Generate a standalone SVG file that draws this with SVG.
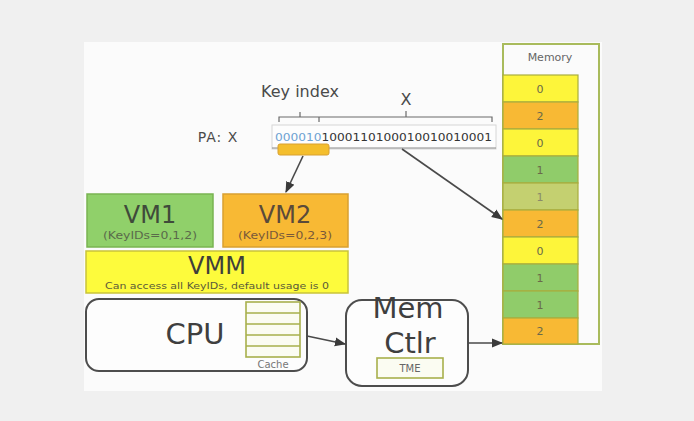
<svg xmlns="http://www.w3.org/2000/svg" width="694" height="421" viewBox="0 0 694 421">
<defs>
<style>
text{font-family:"DejaVu Sans","Liberation Sans",sans-serif;fill:#4a4a4a}
.mid{text-anchor:middle}
.box{stroke-width:1.5}
.green{fill:#90d06a;stroke:#79b452}
.orange{fill:#f8b934;stroke:#d9a030}
.yellow{fill:#fdfb3c;stroke:#c9c43a}
.olive{fill:#c9d47a;stroke:#a8b450}
.round{fill:#fdfdfd;stroke:#4d4d4d;stroke-width:2}
.conn{stroke:#4a4a4a;stroke-width:1.6;fill:none}
.cell{stroke:#a9ad3e;stroke-width:1.2}
.memtxt{font-size:11px;fill:#6a6a4a}
</style>
<marker id="ah" viewBox="0 0 10 10" refX="9" refY="5" markerWidth="7" markerHeight="7" orient="auto">
<path d="M0,1 L10,5 L0,9 z" fill="#3a3a3a"/>
</marker>
</defs>
<rect width="694" height="421" fill="#f0f0f0"/>
<rect x="84" y="42" width="518" height="349" fill="#fbfbfb"/>

<g id="pa">
<text x="300" y="97" class="mid" style="font-size:16px">Key index</text>
<text x="406" y="105" class="mid" style="font-size:16px">X</text>
<path d="M279,122 V117 H492 V122 M300,117 V112 M319,117 V122 M406,117 V111" stroke="#6a6a6a" stroke-width="1.2" fill="none"/>
<text x="218" y="142" class="mid" style="font-size:14px;letter-spacing:1px">PA: X</text>
<rect x="272" y="125" width="224" height="24" fill="#fdfdfd" stroke="#d6d6d6" stroke-width="1"/>
<line x1="272" y1="148" x2="496" y2="148" stroke="#8a8a8a" stroke-width="1.2"/>
<text x="275" y="141" style="font-size:10px" textLength="217" lengthAdjust="spacingAndGlyphs"><tspan style="fill:#6ea2d2">000010</tspan><tspan style="fill:#333">1000110100010010010001</tspan></text>
<rect x="278" y="144" width="51" height="11" rx="2" fill="#f4be2c" stroke="#d8a030" stroke-width="1"/>
</g>

<g id="vm1">
<rect x="87" y="194" width="126" height="53" class="box green"/>
<text x="150" y="223" class="mid" style="font-size:24px;fill:#3f4a3a">VM1</text>
<text x="150" y="239" class="mid" style="font-size:10px;fill:#5a6a4a" textLength="94" lengthAdjust="spacingAndGlyphs">(KeyIDs=0,1,2)</text>
</g>

<g id="vm2">
<rect x="223" y="194" width="125" height="53" class="box orange"/>
<text x="285" y="223" class="mid" style="font-size:24px;fill:#5a4a3a">VM2</text>
<text x="285" y="239" class="mid" style="font-size:10px;fill:#7a5a3a" textLength="94" lengthAdjust="spacingAndGlyphs">(KeyIDs=0,2,3)</text>
</g>

<g id="vmm">
<rect x="86" y="251" width="262" height="42" class="box yellow"/>
<text x="217" y="274" class="mid" style="font-size:24px;fill:#3f3f3a">VMM</text>
<text x="217" y="289" class="mid" style="font-size:9px;fill:#5a5a3a" textLength="224" lengthAdjust="spacingAndGlyphs">Can access all KeyIDs, default usage is 0</text>
</g>

<g id="cpu">
<rect x="86" y="299" width="221" height="72" rx="13" class="round"/>
<text x="195" y="344" class="mid" style="font-size:29px;fill:#3f3f3f">CPU</text>
<rect x="246" y="302" width="54" height="55" fill="#fbfcf2" stroke="#a8b04c" stroke-width="1.6"/>
<path d="M246,313 H300 M246,324 H300 M246,335 H300 M246,346 H300" stroke="#a8b04c" stroke-width="1.6"/>
<text x="273" y="368" class="mid" style="font-size:10px;fill:#777">Cache</text>
</g>

<g id="memctlr">
<rect x="346" y="300" width="122" height="86" rx="16" class="round"/>
<text x="408" y="318" class="mid" style="font-size:29px;fill:#3f3f3f">Mem</text>
<text x="410" y="353" class="mid" style="font-size:29px;fill:#3f3f3f">Ctlr</text>
<rect x="377" y="358" width="66" height="20" fill="#fbfcf2" stroke="#a8b04c" stroke-width="1.6"/>
<text x="410" y="372" class="mid" style="font-size:10px;fill:#666">TME</text>
</g>

<g id="memory">
<rect x="503" y="44" width="96" height="300" fill="#fbfbfb" stroke="#a9bb5c" stroke-width="2"/>
<text x="550" y="61" class="mid" style="font-size:11px;fill:#666">Memory</text>
<rect x="503" y="75" width="75" height="27" class="cell" fill="#fdf53a"/>
<rect x="503" y="102" width="75" height="27" class="cell" fill="#f8b934"/>
<rect x="503" y="129" width="75" height="27" class="cell" fill="#fdf53a"/>
<rect x="503" y="156" width="75" height="27" class="cell" fill="#90cc6a"/>
<rect x="503" y="183" width="75" height="27" class="cell" fill="#c4d070"/>
<rect x="503" y="210" width="75" height="27" class="cell" fill="#f8b934"/>
<rect x="503" y="237" width="75" height="27" class="cell" fill="#fdf53a"/>
<rect x="503" y="264" width="75" height="27" class="cell" fill="#90cc6a"/>
<rect x="503" y="291" width="75" height="27" class="cell" fill="#90cc6a"/>
<rect x="503" y="318" width="75" height="26" class="cell" fill="#f8b934"/>
<text x="540" y="93" class="mid memtxt">0</text>
<text x="540" y="120" class="mid memtxt">2</text>
<text x="540" y="147" class="mid memtxt">0</text>
<text x="540" y="174" class="mid memtxt">1</text>
<text x="540" y="201" class="mid memtxt" style="fill:#8a8a6a">1</text>
<text x="540" y="228" class="mid memtxt">2</text>
<text x="540" y="255" class="mid memtxt">0</text>
<text x="540" y="282" class="mid memtxt">1</text>
<text x="540" y="309" class="mid memtxt">1</text>
<text x="540" y="335" class="mid memtxt">2</text>
</g>

<g id="connectors">
<line x1="303" y1="156" x2="286" y2="192" class="conn" marker-end="url(#ah)"/>
<line x1="402" y1="149" x2="502" y2="219" class="conn" marker-end="url(#ah)"/>
<line x1="307" y1="336" x2="345" y2="344" class="conn" marker-end="url(#ah)"/>
<line x1="468" y1="343" x2="502" y2="343" class="conn" marker-end="url(#ah)"/>
</g>
</svg>
